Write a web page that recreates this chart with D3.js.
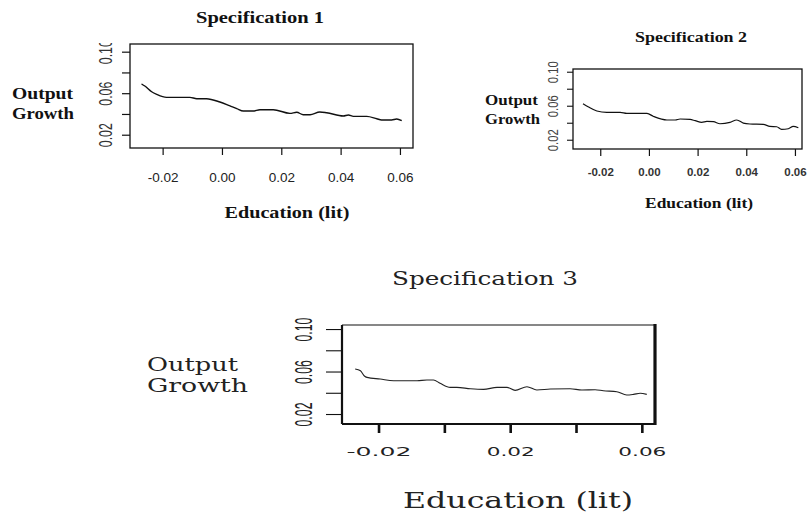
<!DOCTYPE html>
<html>
<head>
<meta charset="utf-8">
<script src="https://cdn.jsdelivr.net/npm/d3@7"></script>
<style>
  html, body { margin: 0; padding: 0; background: #fff; }
  svg { display: block; }
</style>
</head>
<body>
<svg id="chart" width="809" height="513"></svg>
<script>
// values
const spec1Educ = [-0.0271, -0.026, -0.0237, -0.022, -0.0187, -0.0108, -0.0085, -0.0052, -0.0007, 0.0027, 0.005, 0.0072, 0.0105, 0.0128, 0.0173, 0.0229, 0.0252, 0.0274, 0.0297, 0.033, 0.0353, 0.0409, 0.0426, 0.0443, 0.0488, 0.0522, 0.0538, 0.0572, 0.0589, 0.0606];
const spec1Growth = [0.0689, 0.0669, 0.0614, 0.0589, 0.056, 0.056, 0.0547, 0.0547, 0.0515, 0.0477, 0.0451, 0.0428, 0.0428, 0.0441, 0.0441, 0.0406, 0.0416, 0.0393, 0.0393, 0.0419, 0.0412, 0.038, 0.039, 0.0377, 0.0377, 0.0354, 0.0342, 0.0342, 0.0351, 0.0335];

const spec2Educ = [-0.0271, -0.0248, -0.0214, -0.0173, -0.0118, -0.0091, -0.0008, 0.0019, 0.0074, 0.0108, 0.0128, 0.0169, 0.019, 0.0217, 0.0238, 0.0265, 0.0292, 0.0333, 0.0361, 0.0388, 0.0415, 0.047, 0.0497, 0.0525, 0.0545, 0.0573, 0.0593, 0.0614];
const spec2Growth = [0.0624, 0.0585, 0.0538, 0.0521, 0.0521, 0.0509, 0.0509, 0.0474, 0.0432, 0.0432, 0.0444, 0.0439, 0.0424, 0.0404, 0.0415, 0.0412, 0.0388, 0.0404, 0.0432, 0.0396, 0.0385, 0.038, 0.0357, 0.0353, 0.0321, 0.0329, 0.0357, 0.0341];

const spec3Educ = [-0.0271, -0.0255, -0.0243, -0.0235, -0.0195, -0.0154, -0.0083, -0.0053, -0.0033, -0.0013, 0.0018, 0.0038, 0.0079, 0.0119, 0.016, 0.019, 0.0215, 0.0251, 0.0281, 0.0322, 0.0382, 0.0418, 0.0458, 0.0483, 0.0524, 0.0554, 0.0575, 0.0595, 0.0615];
const spec3Growth = [0.0624, 0.0608, 0.0558, 0.0545, 0.0529, 0.0513, 0.0513, 0.052, 0.052, 0.0489, 0.0451, 0.0451, 0.0438, 0.0432, 0.0451, 0.0451, 0.0423, 0.0457, 0.0426, 0.0435, 0.0438, 0.0426, 0.0429, 0.0419, 0.041, 0.0379, 0.0385, 0.0395, 0.0385];

const xTickVals = [-0.02, 0, 0.02, 0.04, 0.06];
const xTickLabels = ["-0.02", "0.00", "0.02", "0.04", "0.06"];
const xTickLabels3 = ["-0.02", "", "0.02", "", "0.06"];
const yTickVals = [0.02, 0.04, 0.06, 0.08, 0.10];
const yTickLabels = ["0.02", "", "0.06", "", "0.10"];

const titles = ["Specification 1", "Specification 2", "Specification 3"];
const yTitle = ["Output", "Growth"];
const xTitle = "Education (lit)";

const serif = "'Liberation Serif', 'Times New Roman', serif";
const wideSerif = "'DejaVu Serif', Georgia, serif";
const sans = "'Liberation Sans', Arial, sans-serif";
const wideSans = "'DejaVu Sans', Verdana, sans-serif";

const svg = d3.select("#chart");

svg.append("defs").append("clipPath").attr("id", "clipTop")
  .append("rect").attr("x", 0).attr("y", 43).attr("width", 809).attr("height", 470);

const panels = [
  {
    xs: spec1Educ, ys: spec1Growth, xLabels: xTickLabels, title: titles[0],
    left: 130, right: 413, top: 44, bottom: 148,
    xDom: [-0.031, 0.0644], yDom: [0.0072, 0.1074],
    frame: 1.3, line: 1.4, lineColor: "#111",
    xTick: 7, xTickW: 1.2, xLabBase: 182, xLabFont: sans, xLabSize: 13.5, xLabWeight: 400, xLabFill: "#222",
    yTick: 8, yTickW: 1.2, yLabX: 106, yLabSize: 18, yLabLen: 24, yLabFill: "#333", clipY: true,
    textFont: serif, textFill: "#111",
    titleX: 260, titleY: 23, titleSize: 17, titleW: 128, titleWeight: 700,
    outX: 12, outY: [99, 119], outSize: 16.5, outW: [61, 62], outWeight: 700,
    eduX: 287, eduY: 218, eduSize: 16.5, eduW: 125, eduWeight: 700
  },
  {
    xs: spec2Educ, ys: spec2Growth, xLabels: xTickLabels, title: titles[1],
    left: 573, right: 802, top: 69, bottom: 149,
    xDom: [-0.0312, 0.0629], yDom: [0.0091, 0.1032],
    frame: 1.3, line: 1.2, lineColor: "#111",
    xTick: 7, xTickW: 1.2, xLabBase: 176, xLabFont: sans, xLabSize: 11.5, xLabWeight: 700, xLabFill: "#333",
    yTick: 6, yTickW: 1.1, yLabX: 553, yLabSize: 14, yLabLen: 22, yLabFill: "#444", clipY: false,
    textFont: serif, textFill: "#111",
    titleX: 691, titleY: 42, titleSize: 14.5, titleW: 112, titleWeight: 700,
    outX: 485, outY: [105, 124], outSize: 15, outW: [53, 55], outWeight: 700,
    eduX: 699, eduY: 208, eduSize: 14.5, eduW: 108, eduWeight: 700
  },
  {
    xs: spec3Educ, ys: spec3Growth, xLabels: xTickLabels3, title: titles[2],
    left: 342, right: 655, top: 325, bottom: 424,
    xDom: [-0.0311, 0.064], yDom: [0.0106, 0.1038],
    frame: 0, line: 1.1, lineColor: "#222",
    xTick: 9, xTickW: 2.6, xLabBase: 456, xLabFont: wideSans, xLabSize: 13, xLabWeight: 400, xLabFill: "#222",
    xLabLen: { 5: 65, 4: 48 },
    yTick: 16, yTickW: 1.1, yLabX: 304, yLabSize: 24, yLabLen: 24, yLabFill: "#222", clipY: false,
    textFont: wideSerif, textFill: "#222",
    titleX: 485, titleY: 285, titleSize: 18, titleW: 186, titleWeight: 400,
    outX: 147, outY: [371, 392], outSize: 18, outW: [91, 101], outWeight: 400,
    eduX: 518, eduY: 508, eduSize: 23, eduW: 230, eduWeight: 400
  }
];

panels.forEach((c) => {
  const x = d3.scaleLinear().domain(c.xDom).range([c.left, c.right]);
  const y = d3.scaleLinear().domain(c.yDom).range([c.bottom, c.top]);
  const g = svg.append("g");

  // frame
  if (c.frame > 0) {
    g.append("rect")
      .attr("x", c.left).attr("y", c.top)
      .attr("width", c.right - c.left).attr("height", c.bottom - c.top)
      .attr("fill", "none").attr("stroke", "#111").attr("stroke-width", c.frame);
  } else {
    // spec 3 box has uneven edge weights
    [
      [c.left, c.top, c.right, c.top, 1.2],
      [c.left, c.bottom, c.right, c.bottom, 2.2],
      [c.left, c.top, c.left, c.bottom, 2.2],
      [c.right, c.top - 1, c.right, c.bottom + 1, 3.2],
    ].forEach(([x1, y1, x2, y2, w]) => {
      g.append("line").attr("x1", x1).attr("y1", y1).attr("x2", x2).attr("y2", y2)
        .attr("stroke", "#111").attr("stroke-width", w);
    });
  }

  // x axis
  const xa = g.append("g")
    .attr("transform", `translate(0,${c.bottom})`)
    .call(d3.axisBottom(x).tickValues(xTickVals).tickSize(c.xTick).tickFormat((d, i) => c.xLabels[i]));
  xa.select(".domain").remove();
  xa.selectAll(".tick line").attr("stroke", "#111").attr("stroke-width", c.xTickW);
  xa.selectAll(".tick text")
    .attr("y", c.xLabBase - c.bottom).attr("dy", null)
    .attr("font-family", c.xLabFont).attr("font-size", c.xLabSize)
    .attr("font-weight", c.xLabWeight).attr("fill", c.xLabFill);
  if (c.xLabLen) {
    xa.selectAll(".tick text").each(function () {
      const t = d3.select(this);
      const s = t.text();
      if (s) t.attr("textLength", c.xLabLen[s.length]).attr("lengthAdjust", "spacingAndGlyphs");
    });
  }

  // y axis (wrapped so the clip works in page coordinates)
  const yWrap = g.append("g");
  if (c.clipY) yWrap.attr("clip-path", "url(#clipTop)");
  const ya = yWrap.append("g")
    .attr("transform", `translate(${c.left},0)`)
    .call(d3.axisLeft(y).tickValues(yTickVals).tickSize(c.yTick).tickFormat((d, i) => yTickLabels[i]));
  ya.select(".domain").remove();
  ya.selectAll(".tick line").attr("stroke", "#111").attr("stroke-width", c.yTickW);
  ya.selectAll(".tick text")
    .attr("transform", "rotate(-90)")
    .attr("x", 0).attr("y", -(c.left - c.yLabX)).attr("dy", "0.35em")
    .attr("text-anchor", "middle")
    .attr("font-family", sans).attr("font-size", c.yLabSize).attr("fill", c.yLabFill)
    .attr("textLength", c.yLabLen).attr("lengthAdjust", "spacingAndGlyphs");

  // curve
  const pts = c.xs.map((v, i) => [v, c.ys[i]]);
  g.append("path")
    .datum(pts)
    .attr("fill", "none")
    .attr("stroke", c.lineColor)
    .attr("stroke-width", c.line)
    .attr("stroke-linejoin", "round")
    .attr("d", d3.line().x((d) => x(d[0])).y((d) => y(d[1])).curve(d3.curveMonotoneX));

  // titles
  g.append("text")
    .attr("x", c.titleX).attr("y", c.titleY)
    .attr("text-anchor", "middle")
    .attr("font-family", c.textFont).attr("font-size", c.titleSize).attr("font-weight", c.titleWeight)
    .attr("fill", c.textFill)
    .attr("textLength", c.titleW).attr("lengthAdjust", "spacingAndGlyphs")
    .text(c.title);

  yTitle.forEach((s, i) => {
    g.append("text")
      .attr("x", c.outX).attr("y", c.outY[i])
      .attr("font-family", c.textFont).attr("font-size", c.outSize).attr("font-weight", c.outWeight)
      .attr("fill", c.textFill)
      .attr("textLength", c.outW[i]).attr("lengthAdjust", "spacingAndGlyphs")
      .text(s);
  });

  g.append("text")
    .attr("x", c.eduX).attr("y", c.eduY)
    .attr("text-anchor", "middle")
    .attr("font-family", c.textFont).attr("font-size", c.eduSize).attr("font-weight", c.eduWeight)
    .attr("fill", c.textFill)
    .attr("textLength", c.eduW).attr("lengthAdjust", "spacingAndGlyphs")
    .text(xTitle);
});
</script>
</body>
</html>
